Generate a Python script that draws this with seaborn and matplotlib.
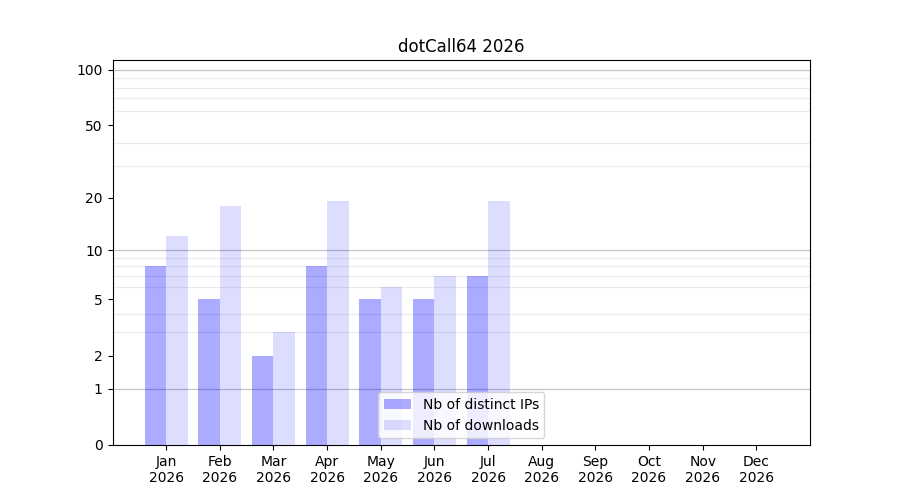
import numpy as np
import pandas as pd
import matplotlib
matplotlib.use("Agg")
import matplotlib.pyplot as plt
import seaborn as sns

months = ["Jan", "Feb", "Mar", "Apr", "May", "Jun", "Jul", "Aug", "Sep", "Oct", "Nov", "Dec"]
year = "2026"
data_months = ["Jan", "Feb", "Mar", "Apr", "May", "Jun", "Jul"]
distinct_ips = [8, 5, 2, 8, 5, 5, 7]
downloads = [12, 18, 3, 19, 6, 7, 19]
series_names = ["Nb of distinct IPs", "Nb of downloads"]
yticks = [0, 1, 2, 5, 10, 20, 50, 100]
title = "dotCall64 2026"

df = pd.DataFrame({
    "month": data_months * 2,
    "value": distinct_ips + downloads,
    "series": [series_names[0]] * len(data_months) + [series_names[1]] * len(data_months),
})

plt.rcParams['font.family'] = ['DejaVu Sans']
fig, ax = plt.subplots(figsize=(9, 5), dpi=100)

sns.barplot(data=df, x="month", y="value", hue="series", order=months,
            hue_order=series_names, width=0.8, dodge=True,
            palette=["#0000ff", "#0000ff"], errorbar=None, ax=ax, saturation=1,
            legend=False)

alphas = [0.33, 0.135]
for cont, a in zip(ax.containers, alphas):
    for p in cont.patches:
        p.set_facecolor((0, 0, 1, a))
        p.set_edgecolor("none")

def fwd(x):
    return np.log10(1 + np.clip(x, -0.999999, None))

def inv(y):
    return 10 ** y - 1

ax.set_yscale("function", functions=(fwd, inv))
ax.set_ylim(0, 113)
ax.set_xlim(-1, 12)
ax.set_yticks(yticks)
ax.set_yticklabels([str(t) for t in yticks])
minor = [v * m for m in (1, 10) for v in range(2, 10)]
ax.set_yticks(minor, minor=True)
ax.tick_params(axis="y", which="minor", length=0)
ax.grid(True, axis="y", which="minor", color="#ebebeb", linewidth=0.8, zorder=0)
for v in (1, 10, 100):
    ax.axhline(v, color="#c4c4c4", linewidth=0.9, zorder=0.5)
ax.set_axisbelow(True)

ax.set_xticks(range(len(months)))
ax.set_xticklabels([f"{m}\n{year}" for m in months])

ax.set_xlabel("")
ax.set_ylabel("")
ax.set_title(title, fontsize=12)
handles = [cont.patches[0] for cont in ax.containers[:2]]
leg = ax.legend(handles, series_names, loc="lower center", fontsize=10)

fig.subplots_adjust(left=0.125, right=0.9, top=0.88, bottom=0.11)
fig.savefig("out.png", dpi=100)
